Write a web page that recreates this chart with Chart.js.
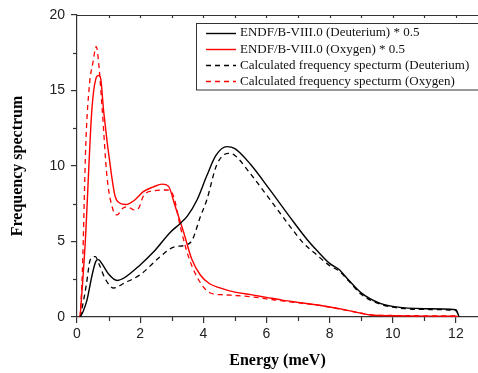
<!DOCTYPE html>
<html>
<head>
<meta charset="utf-8">
<script src="https://cdn.jsdelivr.net/npm/chart.js@4.4.1/dist/chart.umd.min.js"></script>
<style>
  html, body { margin: 0; padding: 0; background: #fff; }
  #wrap { width: 478px; height: 373px; position: relative; }
</style>
</head>
<body>
<div id="wrap"><canvas id="c" width="478" height="373"></canvas></div>
<script>
// ---- Data ----
const seriesLabels = [
  'ENDF/B-VIII.0 (Deuterium) * 0.5',
  'ENDF/B-VIII.0 (Oxygen) * 0.5',
  'Calculated frequency specturm (Deuterium)',
  'Calculated frequency specturm (Oxygen)'
];

const endfDeutE = [0.1, 0.2, 0.32, 0.47, 0.6, 0.68, 0.8, 1.0, 1.27, 1.5, 2.0, 2.42, 2.95, 3.27, 3.5, 3.8, 4.1, 4.4, 4.75, 5.0, 5.5, 6.1, 6.75, 7.3, 7.6, 8.0, 8.3, 8.6, 9.0, 9.6, 10.0, 11.0, 12.0, 12.1];
const endfDeutS = [0, 0.4, 1.15, 2.7, 3.7, 3.8, 3.5, 2.85, 2.42, 2.6, 3.45, 4.3, 5.6, 6.2, 6.7, 7.75, 9.3, 10.7, 11.28, 11.15, 10.1, 8.45, 6.6, 5.1, 4.4, 3.55, 3.15, 2.45, 1.6, 0.9, 0.7, 0.55, 0.48, 0];

const endfOxyE = [0.1, 0.26, 0.47, 0.6, 0.68, 0.75, 0.84, 1.1, 1.21, 1.35, 1.55, 1.8, 2.1, 2.4, 2.7, 2.9, 3.1, 3.37, 3.64, 3.9, 4.2, 4.5, 5.0, 5.5, 6.0, 6.5, 7.0, 7.5, 8.0, 8.5, 9.0, 9.3, 10.0, 11.0, 12.0, 12.1];
const endfOxyS = [0, 4.9, 13.7, 15.8, 16.0, 15.8, 13.7, 9.3, 7.97, 7.55, 7.45, 7.7, 8.3, 8.6, 8.8, 8.65, 7.4, 5.66, 3.8, 2.8, 2.2, 1.95, 1.65, 1.48, 1.3, 1.12, 0.97, 0.83, 0.66, 0.47, 0.25, 0.13, 0.08, 0.06, 0.05, 0];

const calcDeutE = [0.1, 0.2, 0.3, 0.42, 0.58, 0.7, 0.9, 1.16, 1.5, 2.0, 2.64, 3.06, 3.48, 3.65, 3.9, 4.11, 4.43, 4.8, 5.0, 5.48, 6.12, 6.75, 7.17, 7.6, 8.0, 8.3, 8.6, 9.0, 9.6, 10.0, 11.0, 12.0, 12.1];
const calcDeutS = [0, 1.0, 2.2, 3.79, 4.0, 3.5, 2.5, 1.92, 2.25, 2.8, 4.0, 4.63, 4.78, 5.1, 6.6, 7.75, 10.1, 10.84, 10.7, 9.52, 7.75, 5.99, 4.89, 4.1, 3.4, 3.05, 2.4, 1.5, 0.85, 0.65, 0.5, 0.42, 0];

const calcOxyE = [0.1, 0.17, 0.28, 0.4, 0.5, 0.61, 0.7, 0.8, 0.95, 1.14, 1.27, 1.45, 1.6, 1.8, 1.95, 2.1, 2.4, 2.85, 3.06, 3.27, 3.53, 3.85, 4.22, 4.64, 5.2, 5.6, 6.0, 6.5, 7.0, 7.5, 8.0, 8.5, 9.0, 9.3, 10.0, 11.0, 12.0, 12.1];
const calcOxyS = [0, 3.0, 11.5, 15.5, 16.8, 17.9, 16.5, 13.7, 9.3, 7.1, 6.76, 7.2, 7.3, 7.1, 7.2, 8.0, 8.35, 8.41, 8.0, 6.0, 4.0, 2.47, 1.59, 1.47, 1.4, 1.32, 1.2, 1.07, 0.93, 0.82, 0.66, 0.45, 0.25, 0.14, 0.1, 0.08, 0.07, 0];

const xTickValues = [0, 2, 4, 6, 8, 10, 12];
const yTickValues = [0, 5, 10, 15, 20];

// ---- Chart ----
function pts(xs, ys) { return xs.map((x, i) => ({ x: x, y: ys[i] })); }

const tickFont = { family: "'Liberation Sans', Arial, sans-serif", size: 14 };
const titleFont = { family: "'Liberation Serif', 'Times New Roman', serif", size: 16, weight: 'bold' };

const axesPlugin = {
  id: 'axesExtra',
  afterDraw(chart) {
    const ctx = chart.ctx, a = chart.chartArea;
    const xs = chart.scales.x, ys = chart.scales.y;
    ctx.save();
    ctx.strokeStyle = '#333';
    ctx.lineWidth = 1.2;
    // top axis line
    ctx.beginPath();
    ctx.moveTo(a.left, a.top + 0.5);
    ctx.lineTo(a.right, a.top + 0.5);
    ctx.stroke();
    // top inward ticks at every unit
    for (let v = 1; v <= 12; v++) {
      const px = Math.round(xs.getPixelForValue(v)) + 0.5;
      ctx.beginPath();
      ctx.moveTo(px, a.top);
      ctx.lineTo(px, a.top + 3);
      ctx.stroke();
    }
    // bottom minor ticks at odd values
    for (let v = 1; v <= 11; v += 2) {
      const px = Math.round(xs.getPixelForValue(v)) + 0.5;
      ctx.beginPath();
      ctx.moveTo(px, a.bottom);
      ctx.lineTo(px, a.bottom + 4);
      ctx.stroke();
    }
    // left minor ticks
    for (let v = 2.5; v < 20; v += 5) {
      const py = Math.round(ys.getPixelForValue(v)) + 0.5;
      ctx.beginPath();
      ctx.moveTo(a.left, py);
      ctx.lineTo(a.left - 4, py);
      ctx.stroke();
    }
    ctx.restore();

    // legend box
    const bx = 196, by = 23, bw = 290, bh = 66.5;
    ctx.save();
    ctx.fillStyle = '#fff';
    ctx.fillRect(bx, by, bw, bh);
    ctx.strokeStyle = '#333';
    ctx.lineWidth = 1;
    ctx.strokeRect(bx + 0.5, by + 0.5, bw, bh);
    ctx.font = "13px 'Liberation Serif', 'Times New Roman', serif";
    ctx.textBaseline = 'middle';
    ctx.fillStyle = '#111';
    chart.data.datasets.forEach((ds, i) => {
      const y = 32.5 + i * 16.3;
      ctx.save();
      ctx.strokeStyle = ds.borderColor;
      ctx.lineWidth = ds.borderWidth;
      ctx.setLineDash(ds.borderDash || []);
      ctx.beginPath();
      ctx.moveTo(206, Math.round(y) + 0.5);
      ctx.lineTo(236, Math.round(y) + 0.5);
      ctx.stroke();
      ctx.restore();
      ctx.fillText(ds.label, 240, y + 0.5);
    });
    ctx.restore();
  }
};

new Chart(document.getElementById('c'), {
  type: 'line',
  data: {
    datasets: [
      { label: seriesLabels[0], data: pts(endfDeutE, endfDeutS), borderColor: '#000', borderWidth: 1.4, borderDash: [] },
      { label: seriesLabels[1], data: pts(endfOxyE, endfOxyS), borderColor: '#ff0000', borderWidth: 1.4, borderDash: [] },
      { label: seriesLabels[2], data: pts(calcDeutE, calcDeutS), borderColor: '#000', borderWidth: 1.3, borderDash: [5, 4] },
      { label: seriesLabels[3], data: pts(calcOxyE, calcOxyS), borderColor: '#ff0000', borderWidth: 1.3, borderDash: [5, 4] }
    ]
  },
  options: {
    responsive: false,
    devicePixelRatio: 1,
    animation: false,
    layout: { padding: { top: 15, right: 0, left: 0, bottom: 0 } },
    elements: {
      point: { radius: 0 },
      line: { cubicInterpolationMode: 'monotone', fill: false }
    },
    plugins: { legend: { display: false }, tooltip: { enabled: false } },
    scales: {
      x: {
        type: 'linear',
        min: 0,
        max: 12.7,
        border: { display: true, color: '#333', width: 1.2 },
        grid: { display: true, drawOnChartArea: false, tickLength: 6, color: '#333', lineWidth: 1.2 },
        ticks: { font: tickFont, color: '#222', padding: 3, maxRotation: 0 },
        afterBuildTicks: s => { s.ticks = xTickValues.map(v => ({ value: v })); },
        afterFit: s => { s.height = 56; },
        title: { display: true, text: 'Energy (meV)', font: titleFont, color: '#000', padding: { top: 0, bottom: 3 } }
      },
      y: {
        type: 'linear',
        min: 0,
        max: 20,
        border: { display: true, color: '#333', width: 1.2 },
        grid: { display: true, drawOnChartArea: false, tickLength: 6, color: '#333', lineWidth: 1.2 },
        ticks: { font: tickFont, color: '#222', padding: 6 },
        afterBuildTicks: s => { s.ticks = yTickValues.map(v => ({ value: v })); },
        afterFit: s => { s.width = 77; },
        title: { display: true, text: 'Frequency spectrum', font: titleFont, color: '#000', padding: { top: 8, bottom: 0 } }
      }
    }
  },
  plugins: [axesPlugin]
});
</script>
</body>
</html>
